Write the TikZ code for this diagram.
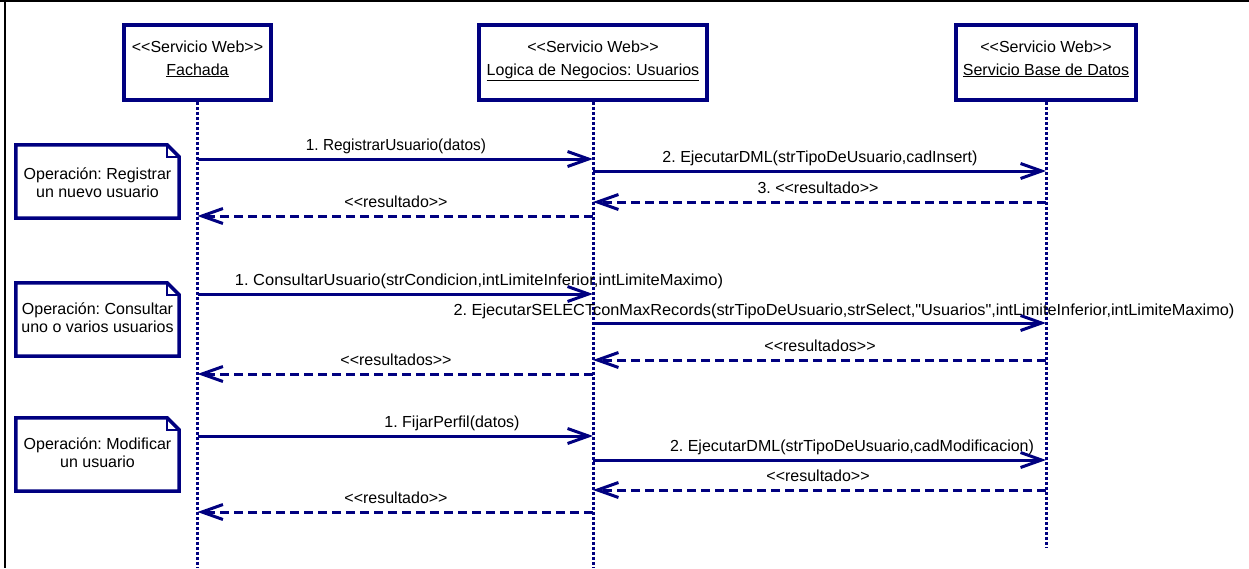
\documentclass[tikz,border=0pt]{standalone}
\usepackage{fontspec}
\setmainfont{Liberation Sans}[Ligatures=TeXOff]
\usetikzlibrary{arrows.meta}
\definecolor{umlnavy}{RGB}{0,0,128}
\frenchspacing
\begin{document}
\begin{tikzpicture}[x=1pt,y=-1pt,
  every node/.style={font=\fontsize{16}{18}\selectfont, inner sep=0pt, text=black},
  lifebox/.style={draw=umlnavy, line width=3.5pt, fill=white, minimum height=75pt, minimum width=#1},
  lifeline/.style={umlnavy, line width=3pt, dash pattern=on 3pt off 2pt},
  call/.style={umlnavy, line width=3pt, -{Straight Barb[length=21pt,width=15pt,line width=3pt]}},
  reply/.style={call, dash pattern=on 9pt off 5pt},
  msglabel/.style={anchor=base},
  notebox/.style={minimum width=163pt, minimum height=73pt},
  noteline/.style={draw=umlnavy, line width=3.5pt, fill=white, line join=miter},
  notetext/.style={align=center, anchor=base},
]
\useasboundingbox (0,0) rectangle (1249,568);

% frame edges
\draw[black, line width=2pt] (0,1) -- (1249,1);
\draw[black, line width=2pt] (5,0) -- (5,568);

% participants
\node[lifebox=147pt] (fach) at (197.5,62.5) {};
\node[lifebox=228pt] (logic) at (593,62.5) {};
\node[lifebox=180pt] (bd) at (1046,62.5) {};

\node[msglabel] (fachS) at (197.5,52) {<<Servicio Web>>};
\node[msglabel] (fachN) at (197.5,75) {\underline{Fachada}};
\node[msglabel] (logicS) at (593,52) {<<Servicio Web>>};
\node[msglabel] (logicN) at (593,75) {\underline{Logica de Negocios: Usuarios}};
\node[msglabel] (bdS) at (1046,52) {<<Servicio Web>>};
\node[msglabel] (bdN) at (1046,75) {\underline{Servicio Base de Datos}};

% lifelines
\coordinate (fachEnd) at (197.5,568);
\coordinate (logicEnd) at (593,568);
\coordinate (bdEnd) at (1046,547);
\draw[lifeline] (fach.south) -- (fachEnd);
\draw[lifeline] (logic.south) -- (logicEnd);
\draw[lifeline] (bd.south) -- (bdEnd);

% notes
\foreach \nm/\cy in {n1/181.5, n2/319.5, n3/454.5} {
  \node[notebox] (\nm) at (97.5,\cy) {};
  \draw[noteline] (\nm.north west) -- ([xshift=-12pt]\nm.north east)
    -- ([yshift=-12pt]\nm.north east) -- (\nm.south east) -- (\nm.south west) -- cycle;
  \draw[umlnavy, line width=2.5pt] ([xshift=-12pt]\nm.north east) -- ([xshift=-12pt,yshift=-12pt]\nm.north east)
    -- ([yshift=-12pt]\nm.north east);
}
\node[notetext] (n1t) at (97.5,197) {Operación: Registrar\\un nuevo usuario};
\node[notetext] (n2t) at (97.5,332) {Operación: Consultar\\uno o varios usuarios};
\node[notetext] (n3t) at (97.5,467) {Operación: Modificar\\un usuario};

% message rows
\foreach \r/\y in {r1/159, r2/171, r3/202, r4/216, r5/294, r6/323, r7/360, r8/374, r9/436, r10/460, r11/490, r12/512}
  \coordinate (\r) at (0,\y);

% registrar
\draw[call] (fach.south |- r1) -- (logic.south |- r1);
\draw[call] (logic.south |- r2) -- (bd.south |- r2);
\draw[reply] (bd.south |- r3) -- (logic.south |- r3);
\draw[reply] (logic.south |- r4) -- (fach.south |- r4);
\node[msglabel, xscale=0.96] (l1) at (396,150) {1. RegistrarUsuario(datos)};
\node[msglabel] (l2) at (820,162) {2. EjecutarDML(strTipoDeUsuario,cadInsert)};
\node[msglabel] (l3) at (818,193) {3. <<resultado>>};
\node[msglabel] (l4) at (396,207) {<<resultado>>};

% consultar
\draw[call] (fach.south |- r5) -- (logic.south |- r5);
\draw[call] (logic.south |- r6) -- (bd.south |- r6);
\draw[reply] (bd.south |- r7) -- (logic.south |- r7);
\draw[reply] (logic.south |- r8) -- (fach.south |- r8);
\node[msglabel, xscale=1.03] (l5) at (479,285) {1. ConsultarUsuario(strCondicion,intLimiteInferior,intLimiteMaximo)};
\node[msglabel, xscale=1.02] (l6) at (844,315) {2. EjecutarSELECTconMaxRecords(strTipoDeUsuario,strSelect,"Usuarios",intLimiteInferior,intLimiteMaximo)};
\node[msglabel] (l7) at (820,351) {<<resultados>>};
\node[msglabel] (l8) at (396,365) {<<resultados>>};

% modificar
\draw[call] (fach.south |- r9) -- (logic.south |- r9);
\draw[call] (logic.south |- r10) -- (bd.south |- r10);
\draw[reply] (bd.south |- r11) -- (logic.south |- r11);
\draw[reply] (logic.south |- r12) -- (fach.south |- r12);
\node[msglabel] (l9) at (452,427) {1. FijarPerfil(datos)};
\node[msglabel] (l10) at (852,451) {2. EjecutarDML(strTipoDeUsuario,cadModificacion)};
\node[msglabel] (l11) at (818,481) {<<resultado>>};
\node[msglabel] (l12) at (396,503) {<<resultado>>};
\end{tikzpicture}
\end{document}
